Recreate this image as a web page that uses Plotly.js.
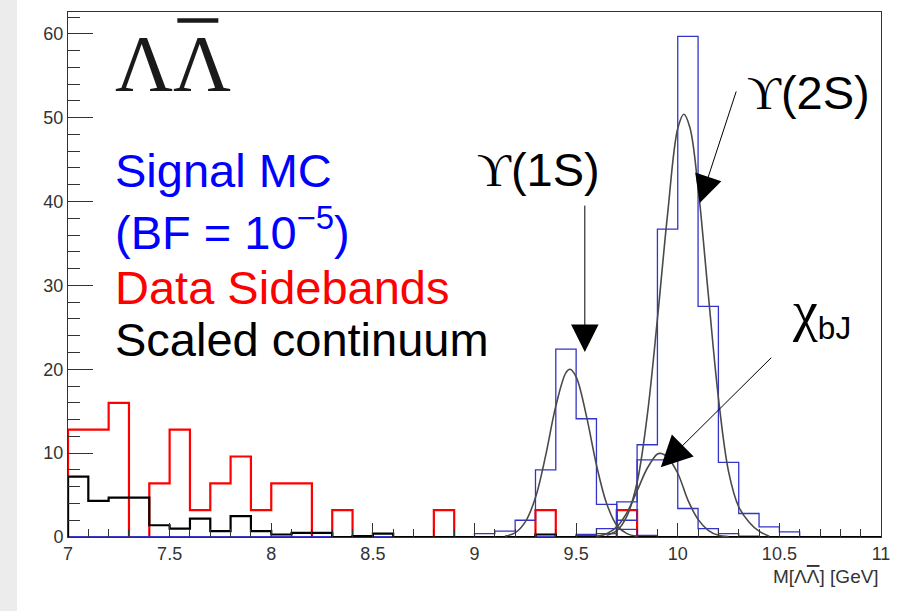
<!DOCTYPE html>
<html>
<head>
<meta charset="utf-8">
<script src="https://cdn.plot.ly/plotly-3.0.1.min.js"></script>
<style>
  html, body { margin: 0; padding: 0; overflow: hidden; }
  body { background: linear-gradient(to right, #ececec 0px, #ececec 17px, #ffffff 17px); }
  #chart { width: 897px; height: 611px; }
</style>
</head>
<body>
<div id="chart"></div>
<script>
// ---- bin edges (GeV), 0.1 GeV bins from 7 to 11 ----
const binEdges = [7.0,7.1,7.2,7.3,7.4,7.5,7.6,7.7,7.8,7.9,8.0,8.1,8.2,8.3,8.4,8.5,8.6,8.7,8.8,8.9,
                  9.0,9.1,9.2,9.3,9.4,9.5,9.6,9.7,9.8,9.9,10.0,10.1,10.2,10.3,10.4,10.5,10.6,10.7,10.8,10.9,11.0];

// ---- histogram contents (one value per bin) ----
const dataSidebands   = [12.8,12.8,16.0,0,6.4,12.8,3.2,6.4,9.6,3.2, 6.4,6.4,0,3.2,0,0,0,0,3.2,0,
                         0,0,0,3.2,0,0,0,3.2,0,0, 0,0,0,0,0,0,0,0,0,0];
const scaledContinuum = [7.2,4.3,4.7,4.7,1.4,1.0,2.2,0.7,2.5,0.7, 0.3,0.5,0.5,0,0.1,0.4,0,0,0,0,
                         0,0,0,0.3,0,0,0,0,0,0, 0,0,0,0,0,0,0,0,0,0];
const mcUpsilon1S     = [0,0,0,0,0,0,0,0,0,0, 0,0,0,0,0,0,0,0,0,0,
                         0.4,0.7,2.0,8.0,22.4,14.1,3.9,0.9,0.2,0, 0,0,0,0,0,0,0,0,0,0];
const mcChiBJ         = [0,0,0,0,0,0,0,0,0,0, 0,0,0,0,0,0,0,0,0,0,
                         0,0,0,0,0,0.2,0.4,2.0,9.2,9.2, 3.4,1.0,0.4,0.1,0,0,0,0,0,0];
const mcUpsilon2S     = [0,0,0,0,0,0,0,0,0,0, 0,0,0,0,0,0,0,0,0,0,
                         0,0,0,0,0,0.3,1.0,4.2,11.0,36.7, 59.7,27.5,8.9,2.8,1.2,0.6,0,0,0,0];

// ---- fitted curves ----
const fit1S_x = [9.15,9.2,9.25,9.3,9.35,9.4,9.45,9.47,9.5,9.55,9.6,9.65,9.7,9.75,9.8];
const fit1S_y = [0.1,0.5,1.8,4.7,9.7,15.6,19.6,20.0,19.1,14.5,8.6,4.0,1.4,0.4,0.1];
const fit2S_x = [9.65,9.7,9.75,9.8,9.85,9.9,9.95,10.0,10.03,10.06,10.1,10.15,10.2,10.25,10.3,10.35,10.4,10.45];
const fit2S_y = [0.2,0.75,2.5,6.5,14.5,26.0,38.5,48.7,50.4,48.8,41.7,29.0,16.6,7.8,3.6,1.8,0.7,0.1];
const fitChi_x = [9.6,9.65,9.7,9.75,9.8,9.85,9.9,9.92,9.95,10.0,10.05,10.1,10.15,10.2,10.25];
const fitChi_y = [0.1,0.4,1.2,2.9,5.5,8.2,9.9,9.95,9.5,7.6,4.4,2.1,0.8,0.2,0.05];

// ---- axis ticks ----
const xTickVals = [7,7.5,8,8.5,9,9.5,10,10.5,11];
const xTickText = ['7','7.5','8','8.5','9','9.5','10','10.5','11'];
const yTickVals = [0,10,20,30,40,50,60];
const yTickText = ['0','10','20','30','40','50','60'];

// build step-histogram outlines from bin edges + contents
function stepTrace(vals, color, width) {
  const x = [binEdges[0]];
  const y = [0];
  for (let i = 0; i < vals.length; i++) { x.push(binEdges[i]); y.push(vals[i]); }
  x.push(binEdges[binEdges.length - 1]); y.push(0);
  return { type: 'scatter', mode: 'lines', x: x, y: y, hoverinfo: 'skip',
           line: { shape: 'hv', color: color, width: width }, showlegend: false };
}
function curveTrace(xs, ys) {
  return { type: 'scatter', mode: 'lines', x: xs, y: ys, hoverinfo: 'skip',
           line: { shape: 'spline', smoothing: 1, color: '#4a4a4a', width: 1.6 }, showlegend: false };
}

const blue = '#3434c8';
const traces = [
  stepTrace(dataSidebands, '#ff0000', 2.2),
  stepTrace(mcUpsilon1S, blue, 1.3),
  stepTrace(mcChiBJ, blue, 1.3),
  stepTrace(mcUpsilon2S, blue, 1.3),
  stepTrace(scaledContinuum, '#000000', 2.2),
  curveTrace(fit1S_x, fit1S_y),
  curveTrace(fitChi_x, fitChi_y),
  curveTrace(fit2S_x, fit2S_y)
];

const sans = 'Liberation Sans, Arial, sans-serif';
const serif = 'Liberation Serif, DejaVu Serif, serif';
const axColor = '#333333';

const layout = {
  width: 897, height: 611,
  margin: { l: 67.5, r: 15.5, t: 12.3, b: 74.3, pad: 0 },
  paper_bgcolor: 'rgba(0,0,0,0)',
  plot_bgcolor: '#ffffff',
  showlegend: false,
  xaxis: {
    range: [7, 11], showgrid: false, zeroline: false,
    showline: true, mirror: true, linecolor: axColor, linewidth: 1,
    ticks: 'inside', ticklen: 14, tickcolor: axColor, tickwidth: 1,
    tickmode: 'array', tickvals: xTickVals, ticktext: xTickText,
    minor: { dtick: 0.1, ticks: 'inside', ticklen: 8, tickcolor: axColor, tickwidth: 1, showgrid: false },
    tickfont: { family: sans, size: 18, color: '#333333' }
  },
  yaxis: {
    range: [0, 62.6], showgrid: false, zeroline: false,
    showline: true, mirror: true, linecolor: axColor, linewidth: 1,
    ticks: 'inside', ticklen: 25, tickcolor: axColor, tickwidth: 1,
    tickmode: 'array', tickvals: yTickVals, ticktext: yTickText,
    minor: { dtick: 2, ticks: 'inside', ticklen: 12, tickcolor: axColor, tickwidth: 1, showgrid: false },
    tickfont: { family: sans, size: 18, color: '#333333' }
  },
  shapes: [
    { type: 'line', xref: 'paper', yref: 'paper', x0: 0.1345, x1: 0.1849, y0: 0.984, y1: 0.984,
      line: { color: '#1a1a1a', width: 4.5 } }
  ],
  annotations: [
    { xref: 'paper', yref: 'paper', x: 0.0559, y: 0.9, xanchor: 'left', yanchor: 'middle', showarrow: false,
      text: 'ΛΛ', font: { family: serif, size: 80, color: '#1a1a1a' } },
    { xref: 'paper', yref: 'paper', x: 0.0559, y: 0.6974, xanchor: 'left', yanchor: 'middle', showarrow: false,
      text: 'Signal MC', font: { family: sans, size: 47, color: '#0000ff' } },
    { xref: 'paper', yref: 'paper', x: 0.0559, y: 0.5868, xanchor: 'left', yanchor: 'middle', showarrow: false,
      text: '(BF = 10<sup>−5</sup>)', font: { family: sans, size: 47, color: '#0000ff' } },
    { xref: 'paper', yref: 'paper', x: 0.0559, y: 0.4752, xanchor: 'left', yanchor: 'middle', showarrow: false,
      text: 'Data Sidebands', font: { family: sans, size: 47, color: '#ff0000' } },
    { xref: 'paper', yref: 'paper', x: 0.0559, y: 0.377, xanchor: 'left', yanchor: 'middle', showarrow: false,
      text: 'Scaled continuum', font: { family: sans, size: 47, color: '#000000' } },
    { xref: 'paper', yref: 'paper', x: 0.5006, y: 0.6993, xanchor: 'left', yanchor: 'middle', showarrow: false,
      text: '<span style="font-family:Liberation Serif, DejaVu Serif, serif">ϒ</span>(1S)', font: { family: sans, size: 47, color: '#000000' } },
    { xref: 'paper', yref: 'paper', x: 0.8323, y: 0.8461, xanchor: 'left', yanchor: 'middle', showarrow: false,
      text: '<span style="font-family:Liberation Serif, DejaVu Serif, serif">ϒ</span>(2S)', font: { family: sans, size: 47, color: '#000000' } },
    { xref: 'paper', yref: 'paper', x: 0.8876, y: 0.427, xanchor: 'left', yanchor: 'middle', showarrow: false,
      text: '<span style="font-family:Liberation Serif, DejaVu Serif, serif;font-size:56px">χ</span><sub>bJ</sub>', font: { family: sans, size: 45, color: '#000000' } },
    { xref: 'paper', yref: 'paper', x: 1.0, y: -0.075, xanchor: 'right', yanchor: 'middle', showarrow: false,
      text: 'M[Λ<span style="text-decoration:overline">Λ</span>] [GeV]', font: { family: sans, size: 19, color: '#333333' } },
    // arrows
    { xref: 'paper', yref: 'paper', x: 0.6357, y: 0.3522, ax: 0, ay: -148, text: '', showarrow: true,
      arrowhead: 2, arrowsize: 5.5, arrowwidth: 1, arrowcolor: '#000000', standoff: 0 },
    { xref: 'paper', yref: 'paper', x: 0.7770, y: 0.6362, ax: 37, ay: -113, text: '', showarrow: true,
      arrowhead: 2, arrowsize: 5.5, arrowwidth: 1, arrowcolor: '#000000', standoff: 0 },
    { xref: 'paper', yref: 'paper', x: 0.7291, y: 0.1329, ax: 112, ay: -111, text: '', showarrow: true,
      arrowhead: 2, arrowsize: 6.2, arrowwidth: 1, arrowcolor: '#000000', standoff: 0 }
  ]
};

Plotly.newPlot('chart', traces, layout, { staticPlot: true, displayModeBar: false });
</script>
</body>
</html>
